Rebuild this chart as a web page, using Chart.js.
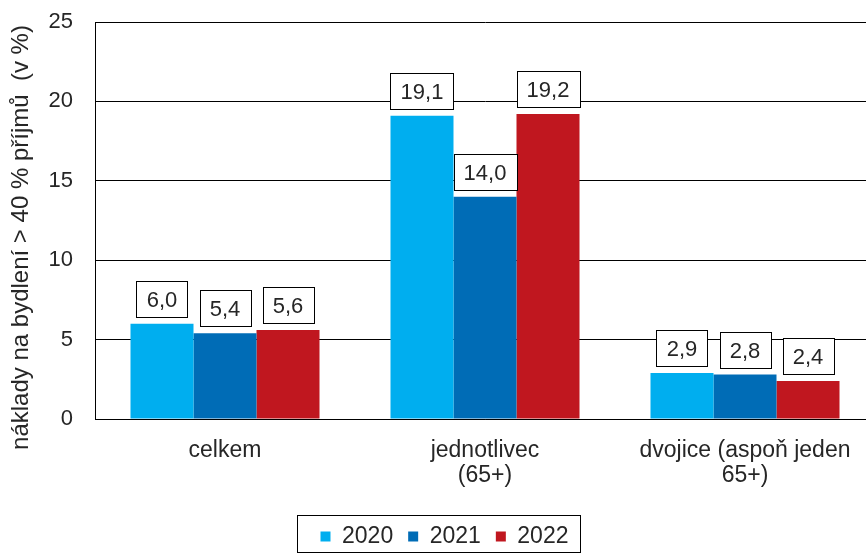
<!DOCTYPE html>
<html>
<head>
<meta charset="utf-8">
<script src="https://cdn.jsdelivr.net/npm/chart.js@4"></script>
<style>
    html, body { margin: 0; padding: 0; background: #fff; overflow: hidden; }
    #wrap { width: 866px; height: 554px; overflow: hidden; }
</style>
</head>
<body>
<!-- the original is cropped a little on the right, so the canvas runs past the edge -->
<div id="wrap"><canvas id="myChart" width="875" height="554"></canvas></div>
<script>
const categories = [['celkem'], ['jednotlivec', '(65+)'], ['dvojice (aspoň jeden', '65+)']];
const years = ['2020', '2021', '2022'];
const values2020 = [6.0, 19.1, 2.9];
const values2021 = [5.4, 14.0, 2.8];
const values2022 = [5.6, 19.2, 2.4];
const yTicks = [0, 5, 10, 15, 20, 25];
const yTitle = 'náklady na bydlení > 40 % příjmů  (v %)';

const colors = ['#00aeef', '#006cb6', '#c0171f'];
const fontFamily = "'Liberation Sans', Arial, sans-serif";
const textColor = '#262626';

// boxed value labels above the bars
const boxLabels = {
    id: 'boxLabels',
    afterDatasetsDraw(chart) {
        const ctx = chart.ctx;
        ctx.save();
        ctx.font = '22px ' + fontFamily;
        ctx.textAlign = 'center';
        ctx.textBaseline = 'middle';
        chart.data.datasets.forEach((ds, i) => {
            chart.getDatasetMeta(i).data.forEach((bar, j) => {
                const text = ds.data[j].toFixed(1).replace('.', ',');
                const w = Math.round(ctx.measureText(text).width + 20);
                const h = 36;
                const x = Math.round(bar.x - w / 2) + 0.5;
                const y = Math.round(bar.y - 7 - h) + 0.5;
                ctx.fillStyle = '#fff';
                ctx.fillRect(x, y, w, h);
                ctx.strokeStyle = '#000';
                ctx.lineWidth = 1;
                ctx.strokeRect(x, y, w, h);
                ctx.fillStyle = textColor;
                ctx.fillText(text, bar.x, y + h / 2 + 1);
            });
        });
        ctx.restore();
    }
};

// y axis title, a little below the middle of the plot like the original
const axisTitle = {
    id: 'axisTitle',
    afterDraw(chart) {
        const ctx = chart.ctx;
        const area = chart.chartArea;
        ctx.save();
        ctx.translate(21, (area.top + area.bottom) / 2 + 17);
        ctx.rotate(-Math.PI / 2);
        ctx.font = '24px ' + fontFamily;
        ctx.fillStyle = textColor;
        ctx.textAlign = 'center';
        ctx.textBaseline = 'middle';
        ctx.fillText(yTitle, 0, 0);
        ctx.restore();
    }
};

// legend sits a bit right and lower, inside a frame
const legendFrame = {
    id: 'legendFrame',
    afterLayout(chart) {
        const lg = chart.legend;
        lg.left += 7;
        lg.right += 7;
        lg.top += 8;
        lg.bottom += 8;
    },
    afterDraw(chart) {
        const boxes = chart.legend.legendHitBoxes;
        if (!boxes || !boxes.length) return;
        const ctx = chart.ctx;
        const first = boxes[0];
        const last = boxes[boxes.length - 1];
        const left = Math.round(first.left - 24) + 0.5;
        const right = Math.round(last.left + last.width + 12) + 0.5;
        const top = Math.round(first.top - 10) + 0.5;
        const bottom = chart.height - 1.5;
        ctx.save();
        ctx.strokeStyle = '#000';
        ctx.lineWidth = 1;
        ctx.strokeRect(left, top, right - left, bottom - top);
        ctx.restore();
    }
};

const ctx = document.getElementById('myChart').getContext('2d');
let chart = new Chart(ctx, {
    type: 'bar',
    data: {
        labels: categories,
        datasets: years.map((y, i) => ({
            label: y,
            data: [values2020, values2021, values2022][i],
            backgroundColor: colors[i],
            borderWidth: 0,
            categoryPercentage: 0.727,
            barPercentage: 1
        }))
    },
    options: {
        responsive: false,
        animation: false,
        layout: { padding: { left: 0, right: 0, top: 22, bottom: 4 } },
        plugins: {
            tooltip: { enabled: false },
            legend: {
                position: 'bottom',
                labels: {
                    boxWidth: 10,
                    boxHeight: 10,
                    padding: 15,
                    color: textColor,
                    font: { family: fontFamily, size: 23 }
                }
            }
        },
        scales: {
            x: {
                grid: { display: false, drawTicks: false },
                border: { display: true, color: '#000', width: 1 },
                ticks: {
                    color: textColor,
                    padding: 20,
                    maxRotation: 0,
                    autoSkip: false,
                    font: { family: fontFamily, size: 23, lineHeight: 1.05 }
                },
                afterFit(scale) { scale.height = 83; }
            },
            y: {
                min: 0,
                max: 25,
                afterBuildTicks(scale) { scale.ticks = yTicks.map(v => ({ value: v })); },
                grid: { color: '#000', lineWidth: 1, drawTicks: false },
                border: { display: true, color: '#000', width: 1 },
                ticks: {
                    color: textColor,
                    padding: 22,
                    font: { family: fontFamily, size: 22 }
                },
                afterFit(scale) {
                    scale.width = 95;
                    scale.paddingTop = 0;
                }
            }
        }
    },
    plugins: [boxLabels, axisTitle, legendFrame]
});
</script>
</body>
</html>
